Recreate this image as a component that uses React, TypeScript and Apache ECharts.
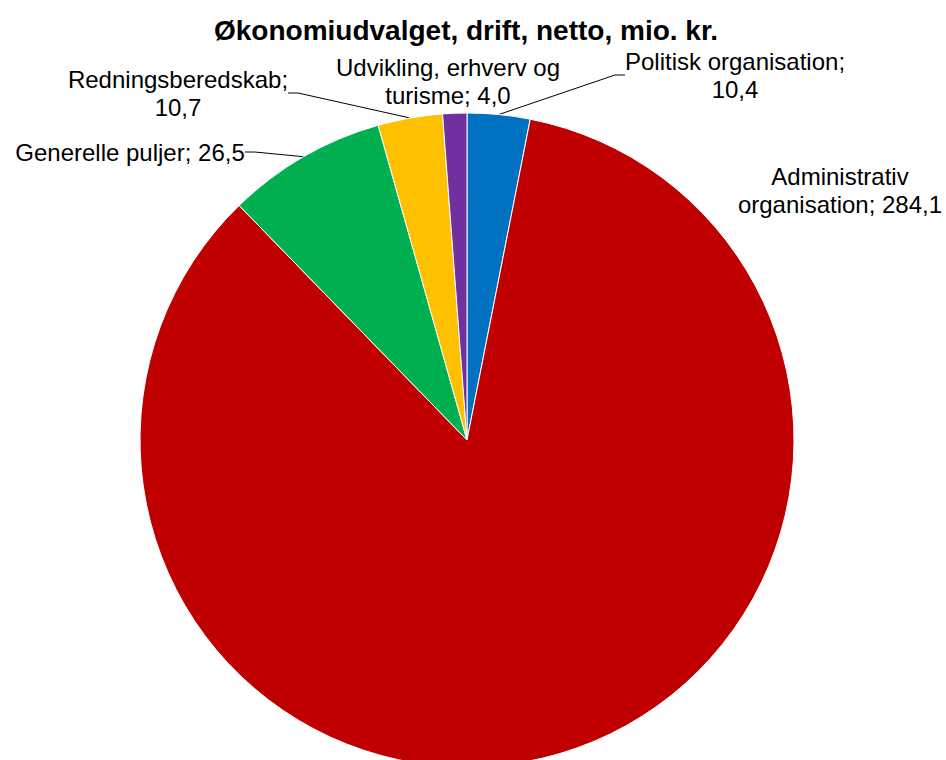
import React, { useEffect, useRef } from "react";
import * as echarts from "echarts";

// ---- data ----
const TITLE = "Økonomiudvalget, drift, netto, mio. kr.";
const categories = [
  "Politisk organisation",
  "Administrativ\norganisation",
  "Generelle puljer",
  "Redningsberedskab",
  "Udvikling, erhverv og\nturisme",
];
const values = [10.4, 284.1, 26.5, 10.7, 4.0];
const colors = ["#0070C0", "#C00000", "#00B050", "#FFC000", "#7030A0"];

// ---- label layout (styles, not data) ----
const breakAfterName = [true, false, false, true, false];
const showLine = [true, false, true, true, false];
const labelPos: [number, number][] = [
  [735, 75],
  [840, 190],
  [130, 152],
  [178, 93],
  [448, 81],
];

const fmt = (v: number) => v.toFixed(1).replace(".", ",");

export default function App() {
  const ref = useRef<HTMLDivElement>(null);
  useEffect(() => {
    if (!ref.current) return;
    const chart = echarts.init(ref.current, undefined, { renderer: "svg" });
    const font = "'Liberation Sans', Arial, sans-serif";
    chart.setOption({
      animation: false,
      backgroundColor: "#ffffff",
      title: {
        text: TITLE,
        left: 466,
        top: 16,
        padding: 0,
        textAlign: "center",
        textStyle: {
          fontFamily: font,
          fontSize: 28,
          fontWeight: "bold",
          color: "#000",
        },
      },
      series: [
        {
          type: "pie",
          center: [467, 440],
          radius: 327,
          startAngle: 90,
          clockwise: true,
          avoidLabelOverlap: false,
          itemStyle: { borderColor: "#ffffff", borderWidth: 1 },
          label: {
            show: true,
            position: "outside",
            fontFamily: font,
            fontSize: 24,
            lineHeight: 28,
            color: "#000",
            align: "center",
            formatter: (p: any) =>
              p.name + (breakAfterName[p.dataIndex] ? ";\n" : "; ") + fmt(p.value),
          },
          labelLine: {
            show: true,
            length: 10,
            length2: 10,
            smooth: false,
            lineStyle: { color: "#000", width: 1 },
          },
          labelLayout: (params: any) => {
            const [x, y] = labelPos[params.dataIndex];
            return { x, y, align: "center", verticalAlign: "middle" };
          },
          data: categories.map((name, i) => ({
            name,
            value: values[i],
            itemStyle: { color: colors[i] },
            labelLine: { show: showLine[i] },
          })),
        },
      ],
    });
    return () => chart.dispose();
  }, []);
  return (
    <div
      ref={ref}
      style={{ position: "absolute", left: 0, top: 0, width: 946, height: 760 }}
    />
  );
}
